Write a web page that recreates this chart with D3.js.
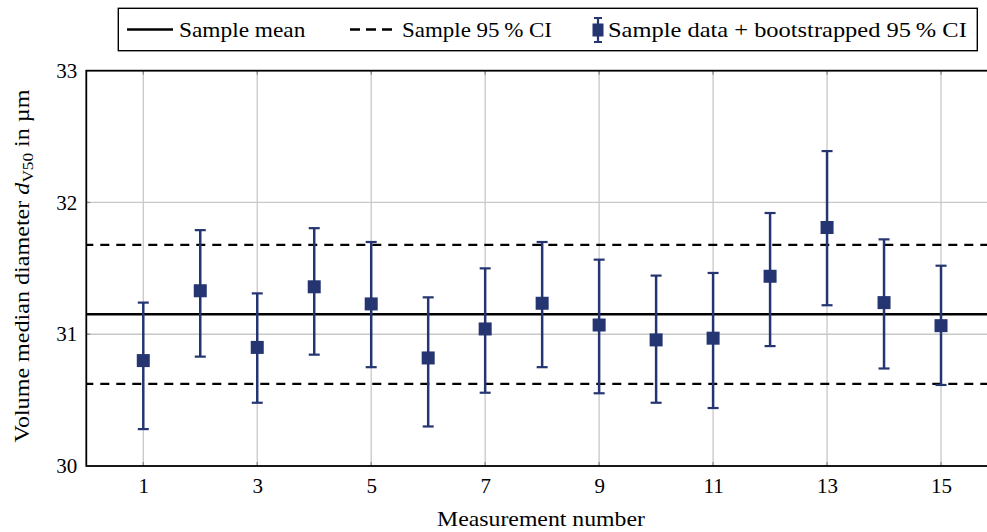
<!DOCTYPE html>
<html>
<head>
<meta charset="UTF-8">
<script src="https://cdn.jsdelivr.net/npm/d3@7"></script>
<style>
body{
    margin:0;
    background-color:white;
    font-family: "Liberation Serif", "DejaVu Serif", serif;
}
svg{ display:block; }
</style>
</head>
<body>
<script>

// measurements with bootstrapped 95 % CI
var ids   = [1, 2, 3, 4, 5, 6, 7, 8, 9, 10, 11, 12, 13, 14, 15];
var means = [30.80, 31.33, 30.90, 31.36, 31.23, 30.82, 31.04, 31.235, 31.07, 30.957, 30.97, 31.44, 31.81, 31.24, 31.065];
var lower = [30.28, 30.83, 30.48, 30.845, 30.75, 30.30, 30.556, 30.75, 30.552, 30.48, 30.44, 30.91, 31.22, 30.74, 30.615];
var upper = [31.24, 31.79, 31.31, 31.805, 31.70, 31.28, 31.50, 31.70, 31.566, 31.445, 31.465, 31.92, 32.39, 31.72, 31.52];

var sampleMean = 31.152;
var sampleCI = [30.623, 31.678];

var xTicks = [1, 3, 5, 7, 9, 11, 13, 15];
var yTicks = [30, 31, 32, 33];

var data = ids.map(function(d, i){ return {id: d, m: means[i], lo: lower[i], hi: upper[i]}; });

var width = 987, height = 532;
var plot = {left: 86.3, top: 70.7, bottom: 466, right: 998};
var blue = "#243572";

var x = d3.scaleLinear().domain([0, 16]).range([plot.left, plot.right]);
var y = d3.scaleLinear().domain([30, 33]).range([plot.bottom, plot.top]);

var svg = d3.select("body").append("svg")
    .attr("width", width)
    .attr("height", height);

// stretch a text to a given width (the original font is wider than what we have)
function fitWidth(sel, target, cx, cy, rot){
    var w = sel.node().getBBox().width;
    sel.attr("transform", "translate(" + cx + "," + cy + ")" + (rot ? " rotate(" + rot + ")" : "") + " scale(" + (target / w) + ",1)");
}

// grid
svg.append("g").selectAll("line")
    .data(xTicks)
    .enter().append("line")
    .attr("x1", function(d){ return x(d); })
    .attr("x2", function(d){ return x(d); })
    .attr("y1", plot.top)
    .attr("y2", plot.bottom)
    .attr("stroke", "#c8c8c8")
    .attr("stroke-width", 1.3);

svg.append("g").selectAll("line")
    .data([31, 32])
    .enter().append("line")
    .attr("x1", plot.left)
    .attr("x2", plot.right)
    .attr("y1", function(d){ return y(d); })
    .attr("y2", function(d){ return y(d); })
    .attr("stroke", "#c8c8c8")
    .attr("stroke-width", 1.3);

// little inner ticks
var tickG = svg.append("g").attr("stroke", "#8c8c8c").attr("stroke-width", 1.3);
xTicks.forEach(function(d){
    tickG.append("line").attr("x1", x(d)).attr("x2", x(d)).attr("y1", plot.bottom).attr("y2", plot.bottom - 4);
    tickG.append("line").attr("x1", x(d)).attr("x2", x(d)).attr("y1", plot.top).attr("y2", plot.top + 4);
});
[31, 32].forEach(function(d){
    tickG.append("line").attr("x1", plot.left).attr("x2", plot.left + 4).attr("y1", y(d)).attr("y2", y(d));
});

// sample mean and CI
svg.append("line")
    .attr("x1", plot.left).attr("x2", plot.right)
    .attr("y1", y(sampleMean)).attr("y2", y(sampleMean))
    .attr("stroke", "black").attr("stroke-width", 2.4);

svg.append("g").selectAll("line")
    .data(sampleCI)
    .enter().append("line")
    .attr("x1", plot.left).attr("x2", plot.right)
    .attr("y1", function(d){ return y(d); })
    .attr("y2", function(d){ return y(d); })
    .attr("stroke", "black")
    .attr("stroke-width", 2.4)
    .attr("stroke-dasharray", "9,7")
    .attr("stroke-dashoffset", 2);

// error bars
var pts = svg.append("g").selectAll("g")
    .data(data)
    .enter().append("g");

pts.append("line")
    .attr("x1", function(d){ return x(d.id); })
    .attr("x2", function(d){ return x(d.id); })
    .attr("y1", function(d){ return y(d.lo); })
    .attr("y2", function(d){ return y(d.hi); })
    .attr("stroke", blue).attr("stroke-width", 2.5);

pts.selectAll(".cap")
    .data(function(d){ return [{id: d.id, v: d.lo}, {id: d.id, v: d.hi}]; })
    .enter().append("line")
    .attr("class", "cap")
    .attr("x1", function(d){ return x(d.id) - 5.5; })
    .attr("x2", function(d){ return x(d.id) + 5.5; })
    .attr("y1", function(d){ return y(d.v); })
    .attr("y2", function(d){ return y(d.v); })
    .attr("stroke", blue).attr("stroke-width", 2.2);

pts.append("rect")
    .attr("x", function(d){ return x(d.id) - 6.5; })
    .attr("y", function(d){ return y(d.m) - 6.5; })
    .attr("width", 13)
    .attr("height", 13)
    .attr("fill", blue);

// frame
svg.append("rect")
    .attr("x", plot.left).attr("y", plot.top)
    .attr("width", plot.right - plot.left).attr("height", plot.bottom - plot.top)
    .attr("fill", "none")
    .attr("stroke", "black")
    .attr("stroke-width", 1.8);

// axes (labels only)
var xAxis = d3.axisBottom(x).tickValues(xTicks).tickSize(0).tickPadding(12).tickFormat(d3.format("d"));
var yAxis = d3.axisLeft(y).tickValues(yTicks).tickSize(0).tickPadding(9).tickFormat(d3.format("d"));

var gX = svg.append("g")
    .attr("transform", "translate(0," + plot.bottom + ")")
    .call(xAxis);
var gY = svg.append("g")
    .attr("transform", "translate(" + plot.left + ",0)")
    .call(yAxis);
[gX, gY].forEach(function(g){
    g.select(".domain").remove();
    g.selectAll("text").attr("font-size", 21).attr("fill", "black")
        .attr("font-family", "Liberation Serif, serif");
});

// axis titles
var xLabel = svg.append("text")
    .attr("font-size", 21)
    .attr("text-anchor", "middle")
    .text("Measurement number");
fitWidth(xLabel, 208, 541, 526);

var yLabel = svg.append("text")
    .attr("font-size", 21)
    .attr("text-anchor", "middle");
yLabel.append("tspan").text("Volume median diameter ");
yLabel.append("tspan").attr("font-style", "italic").text("d");
yLabel.append("tspan").attr("font-size", 15).attr("dy", 4).text("V50");
yLabel.append("tspan").attr("dy", -4).text(" in µm");
fitWidth(yLabel, 353, 29, 266, -90);

// legend
var leg = svg.append("g");
leg.append("rect")
    .attr("x", 118.3).attr("y", 8.3)
    .attr("width", 859).attr("height", 42.4)
    .attr("fill", "white").attr("stroke", "black").attr("stroke-width", 1.4);

leg.append("line")
    .attr("x1", 127).attr("x2", 173).attr("y1", 29.5).attr("y2", 29.5)
    .attr("stroke", "black").attr("stroke-width", 2.4);
leg.append("line")
    .attr("x1", 350).attr("x2", 393).attr("y1", 29.5).attr("y2", 29.5)
    .attr("stroke", "black").attr("stroke-width", 2.4)
    .attr("stroke-dasharray", "10,6");

leg.append("line")
    .attr("x1", 598).attr("x2", 598).attr("y1", 18).attr("y2", 42)
    .attr("stroke", blue).attr("stroke-width", 2.2);
leg.selectAll(".lcap")
    .data([18, 42])
    .enter().append("line")
    .attr("x1", 594).attr("x2", 602)
    .attr("y1", function(d){ return d; }).attr("y2", function(d){ return d; })
    .attr("stroke", blue).attr("stroke-width", 2);
leg.append("rect")
    .attr("x", 592.5).attr("y", 23.5).attr("width", 11).attr("height", 13)
    .attr("fill", blue);

var legItems = [
    {text: "Sample mean", x: 179, w: 127},
    {text: "Sample 95\u2009% CI", x: 402, w: 150},
    {text: "Sample data + bootstrapped 95\u2009% CI", x: 608, w: 359}
];
legItems.forEach(function(d){
    var t = leg.append("text")
        .attr("font-size", 21)
        .text(d.text);
    fitWidth(t, d.w, d.x, 36.5);
});

</script>
</body>
</html>
